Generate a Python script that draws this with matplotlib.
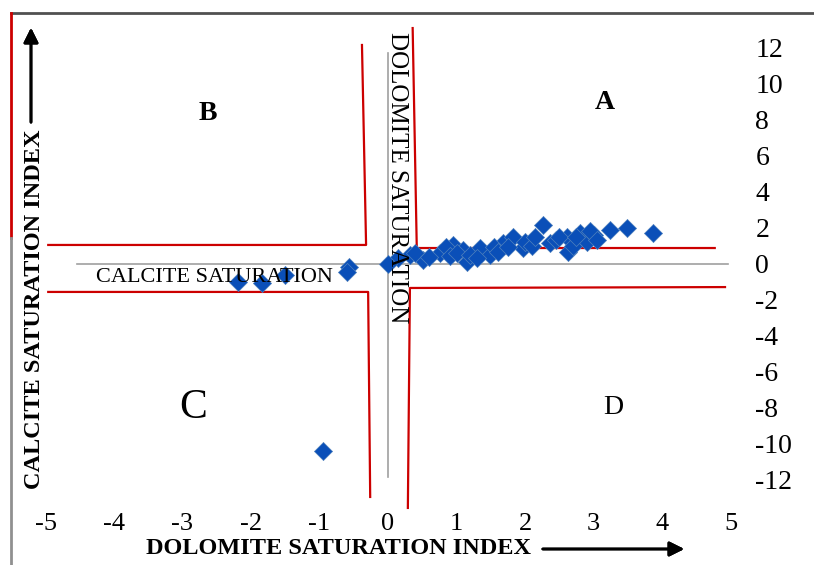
import matplotlib
matplotlib.use("Agg")
import matplotlib.pyplot as plt
from matplotlib.lines import Line2D

plt.rcParams['font.family'] = ['Liberation Serif', 'DejaVu Serif']

# saturation indices
dolomite_si = [0.32, 0.51, 0.76, 0.95, 1.10, 1.15, 1.34, 1.49, 1.68, 1.83, 1.97,
               2.26, 2.36, 2.61, 2.63, 2.80, 2.90, 3.00, 3.24, 3.49, 3.87,
               0.15, 0.40, 0.60, 0.85, 0.90, 1.00, 1.20, 1.30, 1.55, 1.60, 1.75,
               2.00, 2.10, 2.15, 2.45, 2.50, 2.70, 2.75, 2.95, 3.05,
               0.00, -0.57, -0.60, -1.50, -1.84, -2.19, -0.95]
calcite_si = [0.47, 0.20, 0.58, 1.03, 0.75, 0.08, 0.86, 0.47, 1.14, 1.47, 0.86,
              2.14, 1.14, 1.47, 0.64, 1.69, 1.20, 1.58, 1.86, 1.97, 1.69,
              0.30, 0.60, 0.35, 0.90, 0.40, 0.60, 0.50, 0.30, 0.90, 0.65, 0.90,
              1.20, 1.00, 1.50, 1.30, 1.50, 1.00, 1.50, 1.80, 1.30,
              -0.05, -0.20, -0.45, -0.64, -1.08, -1.00, -10.40]

x_ticks = [-5, -4, -3, -2, -1, 0, 1, 2, 3, 4, 5]
y_ticks = [12, 10, 8, 6, 4, 2, 0, -2, -4, -6, -8, -10, -12]

# red quadrant boundary lines drawn over the chart (data units)
red_lines = [
    ([-4.96, -0.32, -0.38], [1.03, 1.03, 12.14]),
    ([-4.96, -0.29, -0.26], [-1.58, -1.58, -12.97]),
    ([0.36, 0.42, 4.77], [13.08, 0.86, 0.86]),
    ([4.92, 0.32, 0.29], [-1.31, -1.36, -13.58]),
]

fig = plt.figure(figsize=(8.14, 5.65), dpi=100)
ax = fig.add_axes([45.5 / 814, 1 - 479.5 / 565, 685 / 814, 432 / 565])
ax.set_xlim(-5, 5)
ax.set_ylim(-12, 12)
for s in ax.spines.values():
    s.set_visible(False)

# axis lines through zero
ax.plot([-4.54, 4.96], [0, 0], color='#a0a0a0', lw=1.2, zorder=1)
ax.plot([0, 0], [11.7, -11.86], color='#a0a0a0', lw=1.2, zorder=1)

for xs, ys in red_lines:
    ax.plot(xs, ys, color='#cc0000', lw=1.6, clip_on=False, zorder=2)

ax.scatter(dolomite_si, calcite_si, marker='D', s=85, color='#0a4fb8',
           edgecolors='#4f81bd', linewidths=0.5, zorder=3)

ax.set_xticks(x_ticks)
ax.set_xticklabels([str(v) for v in x_ticks])
ax.set_yticks(y_ticks)
ax.set_yticklabels([str(v) for v in y_ticks])
ax.yaxis.tick_right()
ax.tick_params(axis='x', length=0, pad=24, labelsize=19)
ax.tick_params(axis='y', length=0, pad=18, labelsize=20)

# quadrant letters and axis captions
ax.text(-2.63, 8.36, 'B', fontsize=20, fontweight='bold', ha='center', va='center')
ax.text(3.17, 8.92, 'A', fontsize=20, fontweight='bold', ha='center', va='center')
ax.text(-2.85, -8.0, 'C', fontsize=30, ha='center', va='center')
ax.text(3.29, -8.0, 'D', fontsize=20, ha='center', va='center')
ax.text(-2.53, -0.8, 'CALCITE SATURATION', fontsize=16, ha='center', va='center', zorder=4)
ax.text(0.13, 4.75, 'DOLOMITE SATURATION', fontsize=18, rotation=270,
        ha='center', va='center', zorder=4)

# outer frame
fig.add_artist(Line2D([11 / 814, 1], [1 - 13 / 565] * 2, color='#505050', lw=2))
fig.add_artist(Line2D([11 / 814] * 2, [1 - 13 / 565, 1 - 238 / 565], color='#cc0000', lw=2))
fig.add_artist(Line2D([11 / 814] * 2, [1 - 238 / 565, 0], color='#909090', lw=2))

# axis titles with arrows
fig.text(35 / 814, 1 - 309 / 565, 'CALCITE SATURATION INDEX', rotation=90,
         fontsize=17.5, fontweight='bold', ha='center', va='center')
fig.text(339 / 814, 1 - 549 / 565, 'DOLOMITE SATURATION INDEX',
         fontsize=17.5, fontweight='bold', ha='center', va='center')
fig.add_artist(plt.annotate('', xy=(31 / 814, 1 - 25 / 565), xytext=(31 / 814, 1 - 125 / 565),
                            xycoords='figure fraction',
                            arrowprops=dict(arrowstyle='-|>', color='black', lw=2,
                                            mutation_scale=22)))
fig.add_artist(plt.annotate('', xy=(687 / 814, 1 - 549 / 565), xytext=(540 / 814, 1 - 549 / 565),
                            xycoords='figure fraction',
                            arrowprops=dict(arrowstyle='-|>', color='black', lw=2,
                                            mutation_scale=22)))

fig.savefig('out.png', dpi=100)
